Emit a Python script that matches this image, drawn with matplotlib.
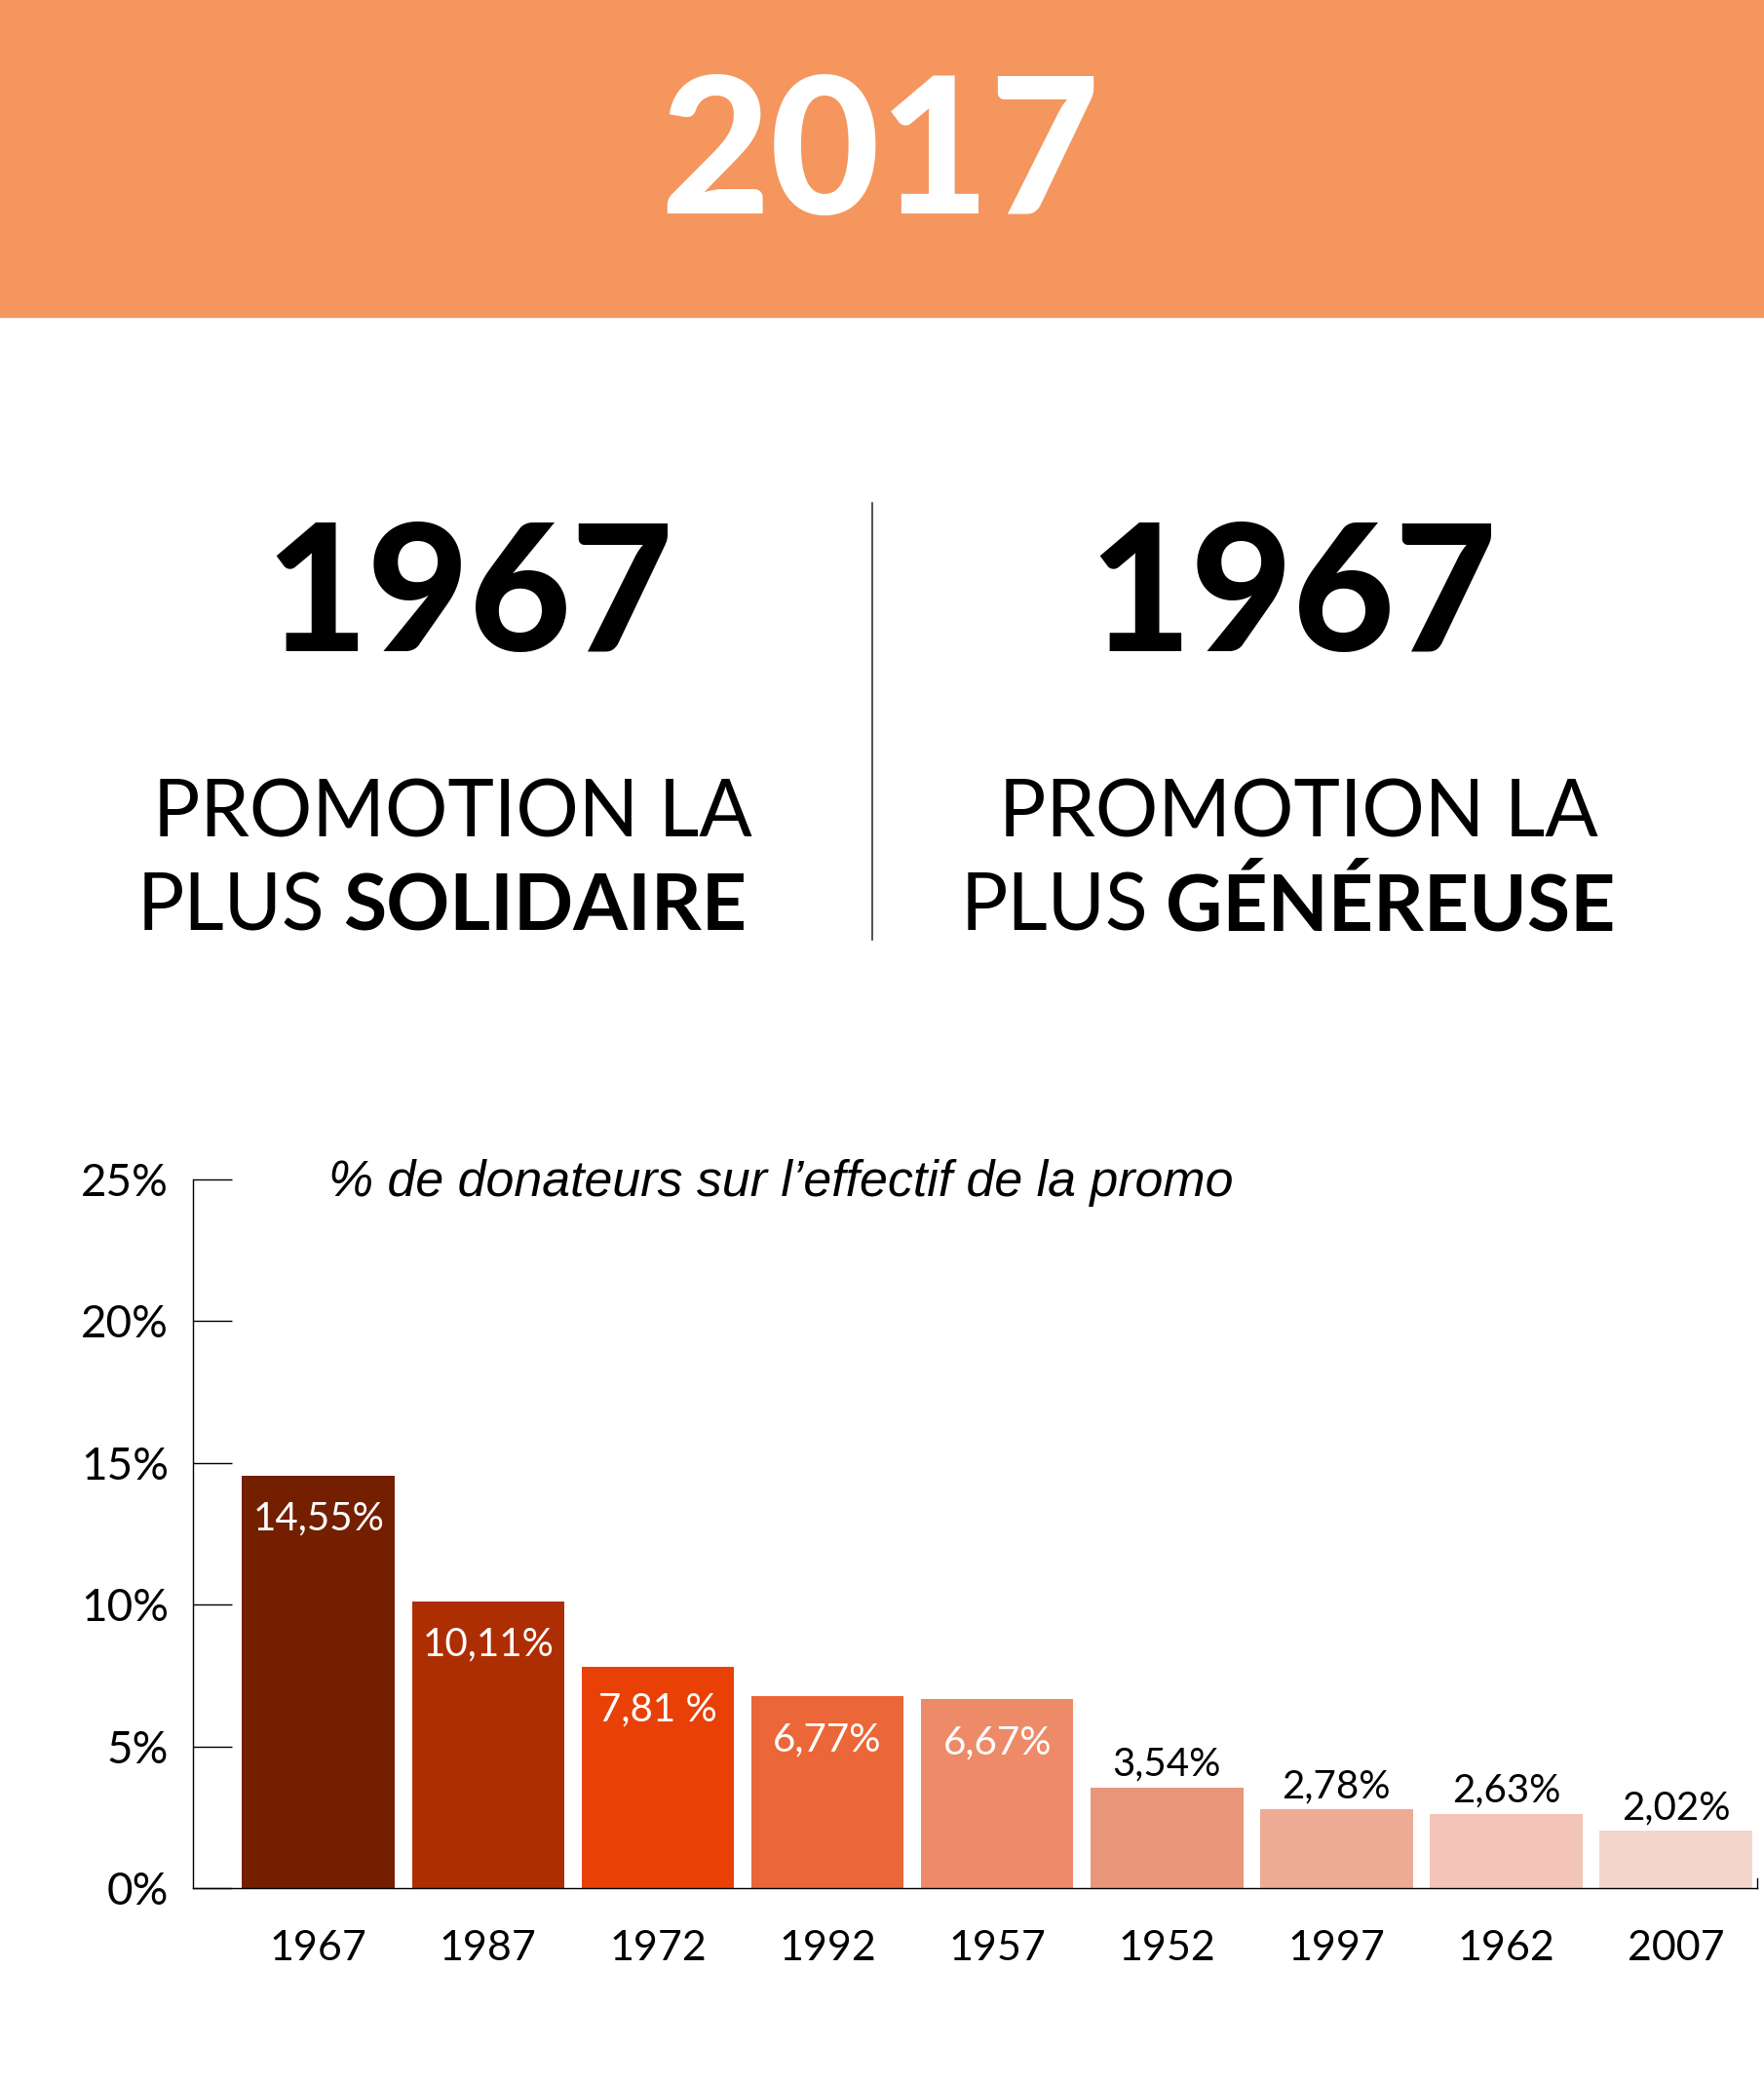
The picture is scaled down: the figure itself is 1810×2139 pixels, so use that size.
#!/usr/bin/env python3
import matplotlib
matplotlib.use("Agg")
import matplotlib.pyplot as plt
from matplotlib.patches import Rectangle
from matplotlib.lines import Line2D

#chart data
promos = ["1967", "1987", "1972", "1992", "1957", "1952", "1997", "1962", "2007"]
pct_donateurs = [14.55, 10.11, 7.81, 6.77, 6.67, 3.54, 2.78, 2.63, 2.02]
value_labels = ["14,55%", "10,11%", "7,81 %", "6,77%", "6,67%", "3,54%", "2,78%", "2,63%", "2,02%"]
bar_colors = ["#741f00", "#ae2e03", "#e94008", "#eb6638", "#ed8a68",
              "#e9967a", "#edab95", "#f2c5b8", "#f3d6cb"]
inside = [True, True, True, True, True, False, False, False, False]
y_ticks = [0, 5, 10, 15, 20, 25]
y_tick_labels = ["0%", "5%", "10%", "15%", "20%", "25%"]

W, H = 1810, 2139

def px(x):
    return x / W

def py(y):
    return 1 - y / H

def header(fig):
    fig.patches.append(Rectangle((0, py(325)), 1, 325 / H, transform=fig.transFigure,
                                 color="#f4965e", zorder=0))
    fig.text(px(903), py(219), "2017", color="white", fontsize=140, fontfamily="Lato",
             fontweight="black", ha="center", va="baseline")

def promo_blocks(fig):
    #big years
    for cx in [482, 1327]:
        fig.text(px(cx), py(668), "1967", color="black", fontsize=130, fontfamily="Lato",
                 fontweight="black", ha="center", va="baseline")
    #left block
    fig.text(px(464), py(859), "PROMOTION LA", fontsize=58, fontfamily="Lato",
             ha="center", va="baseline")
    fig.text(px(333), py(955), "PLUS", fontsize=58, fontfamily="Lato", ha="right", va="baseline")
    fig.text(px(352), py(955), "SOLIDAIRE", fontsize=58, fontfamily="Lato", fontweight="bold",
             ha="left", va="baseline")
    #right block
    fig.text(px(1332), py(859), "PROMOTION LA", fontsize=58, fontfamily="Lato",
             ha="center", va="baseline")
    fig.text(px(1178), py(955), "PLUS", fontsize=58, fontfamily="Lato", ha="right", va="baseline")
    fig.text(px(1196), py(955), "GÉNÉREUSE", fontsize=58, fontfamily="Lato", fontweight="bold",
             ha="left", va="baseline")
    #divider
    fig.lines.append(Line2D([px(895), px(895)], [py(516), py(964)], transform=fig.transFigure,
                            color="#333333", linewidth=1.2))

def bar_chart(fig):
    ax = fig.add_axes([px(198), 202 / H, 1605 / W, 727 / H])
    x = list(range(len(promos)))
    ax.bar(x, pct_donateurs, width=0.9, color=bar_colors, zorder=2)
    ax.set_xlim(-0.74, 8.48)
    ax.set_ylim(0, 25)

    for i in x:
        if inside[i]:
            ax.annotate(value_labels[i], (i, pct_donateurs[i]), xytext=(0, -32),
                        textcoords="offset points", ha="center", va="center",
                        color="white", fontsize=29, fontfamily="Lato", zorder=3)
        else:
            ax.annotate(value_labels[i], (i, pct_donateurs[i]), xytext=(0, 17),
                        textcoords="offset points", ha="center", va="center",
                        color="black", fontsize=29, fontfamily="Lato", zorder=3)

    ax.spines["top"].set_visible(False)
    ax.spines["right"].set_bounds(0, 0.35)
    for s in ["left", "bottom", "right"]:
        ax.spines[s].set_linewidth(1.0)
    ax.set_yticks(y_ticks)
    ax.set_yticklabels(y_tick_labels, fontsize=33, fontfamily="Lato")
    ax.tick_params(axis="y", direction="in", length=29, width=1.0, pad=18)
    ax.set_xticks(x)
    ax.set_xticklabels(promos, fontsize=31, fontfamily="Lato")
    ax.tick_params(axis="x", length=0, pad=31)
    ax.set_facecolor("none")

    fig.text(px(337), py(1214), "% de donateurs sur l\u2019effectif de la promo", fontsize=37.4,
             fontfamily="Liberation Sans", fontstyle="italic", ha="left", va="center")

def main():
    fig = plt.figure(figsize=(W / 100, H / 100), dpi=100)
    fig.patch.set_facecolor("white")
    header(fig)
    promo_blocks(fig)
    bar_chart(fig)
    fig.savefig("out.png", dpi=100)

if __name__ == "__main__":
    main()
